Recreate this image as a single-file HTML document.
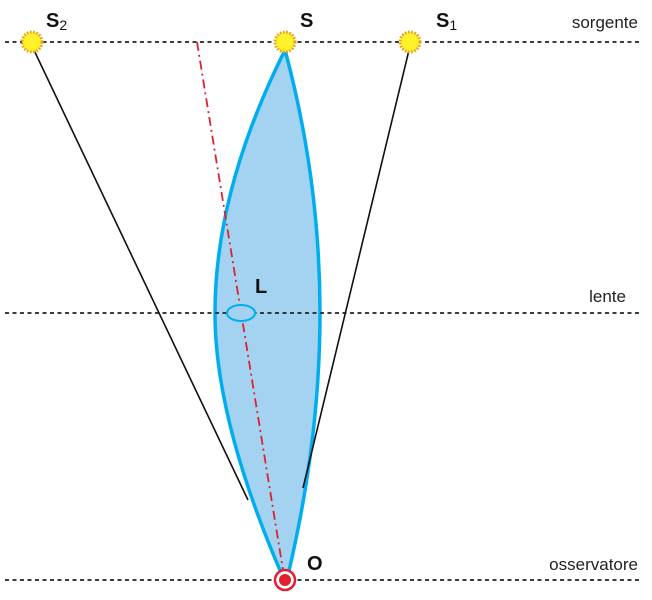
<!DOCTYPE html>
<html><head><style>body{margin:0;background:#fff}svg{display:block}</style></head><body>
<svg width="652" height="600" xmlns="http://www.w3.org/2000/svg" font-family="Liberation Sans, sans-serif">
<defs>
<g id="sun"><circle r="10" fill="#fff22a" stroke="#e3a020" stroke-width="3" stroke-dasharray="1.6 1.6"/></g>
</defs>
<path d="M285,50 Q215,190 215,313 Q215,420 282,575 L288,575 Q320,440 320,313 Q320,180 285,50 Z" fill="#a3d3f0" stroke="#00aeef" stroke-width="3.5" stroke-linejoin="round"/>
<g stroke="#222" stroke-width="1.8" stroke-dasharray="4 3.5">
<line x1="5" y1="42" x2="640" y2="42"/>
<line x1="5" y1="313" x2="640" y2="313"/>
<line x1="5" y1="580" x2="640" y2="580"/>
</g>
<line x1="32" y1="46" x2="248" y2="500" stroke="#111" stroke-width="1.6"/>
<line x1="410" y1="46" x2="303" y2="488" stroke="#111" stroke-width="1.6"/>
<line x1="197" y1="42" x2="283" y2="570" stroke="#e0202f" stroke-width="1.8" stroke-dasharray="9 4 2 4"/>
<ellipse cx="241" cy="313" rx="14" ry="8" fill="#a3d3f0" stroke="#00aeef" stroke-width="2"/>
<use href="#sun" x="32" y="42"/>
<use href="#sun" x="285" y="42"/>
<use href="#sun" x="410" y="42"/>
<circle cx="285" cy="580" r="10" fill="#fff" stroke="#e0202f" stroke-width="2.5"/>
<circle cx="285" cy="580" r="6" fill="#e0202f"/>
<g font-weight="bold" font-size="20" fill="#111">
<text x="46" y="27">S<tspan font-size="14" font-weight="normal" dy="3">2</tspan></text>
<text x="300" y="27">S</text>
<text x="436" y="27">S<tspan font-size="14" font-weight="normal" dy="3">1</tspan></text>
<text x="255" y="293">L</text>
<text x="307" y="570">O</text>
</g>
<g font-size="17" fill="#222" text-anchor="end">
<text x="638" y="28">sorgente</text>
<text x="626" y="302">lente</text>
<text x="638" y="570">osservatore</text>
</g>
</svg>
</body></html>
